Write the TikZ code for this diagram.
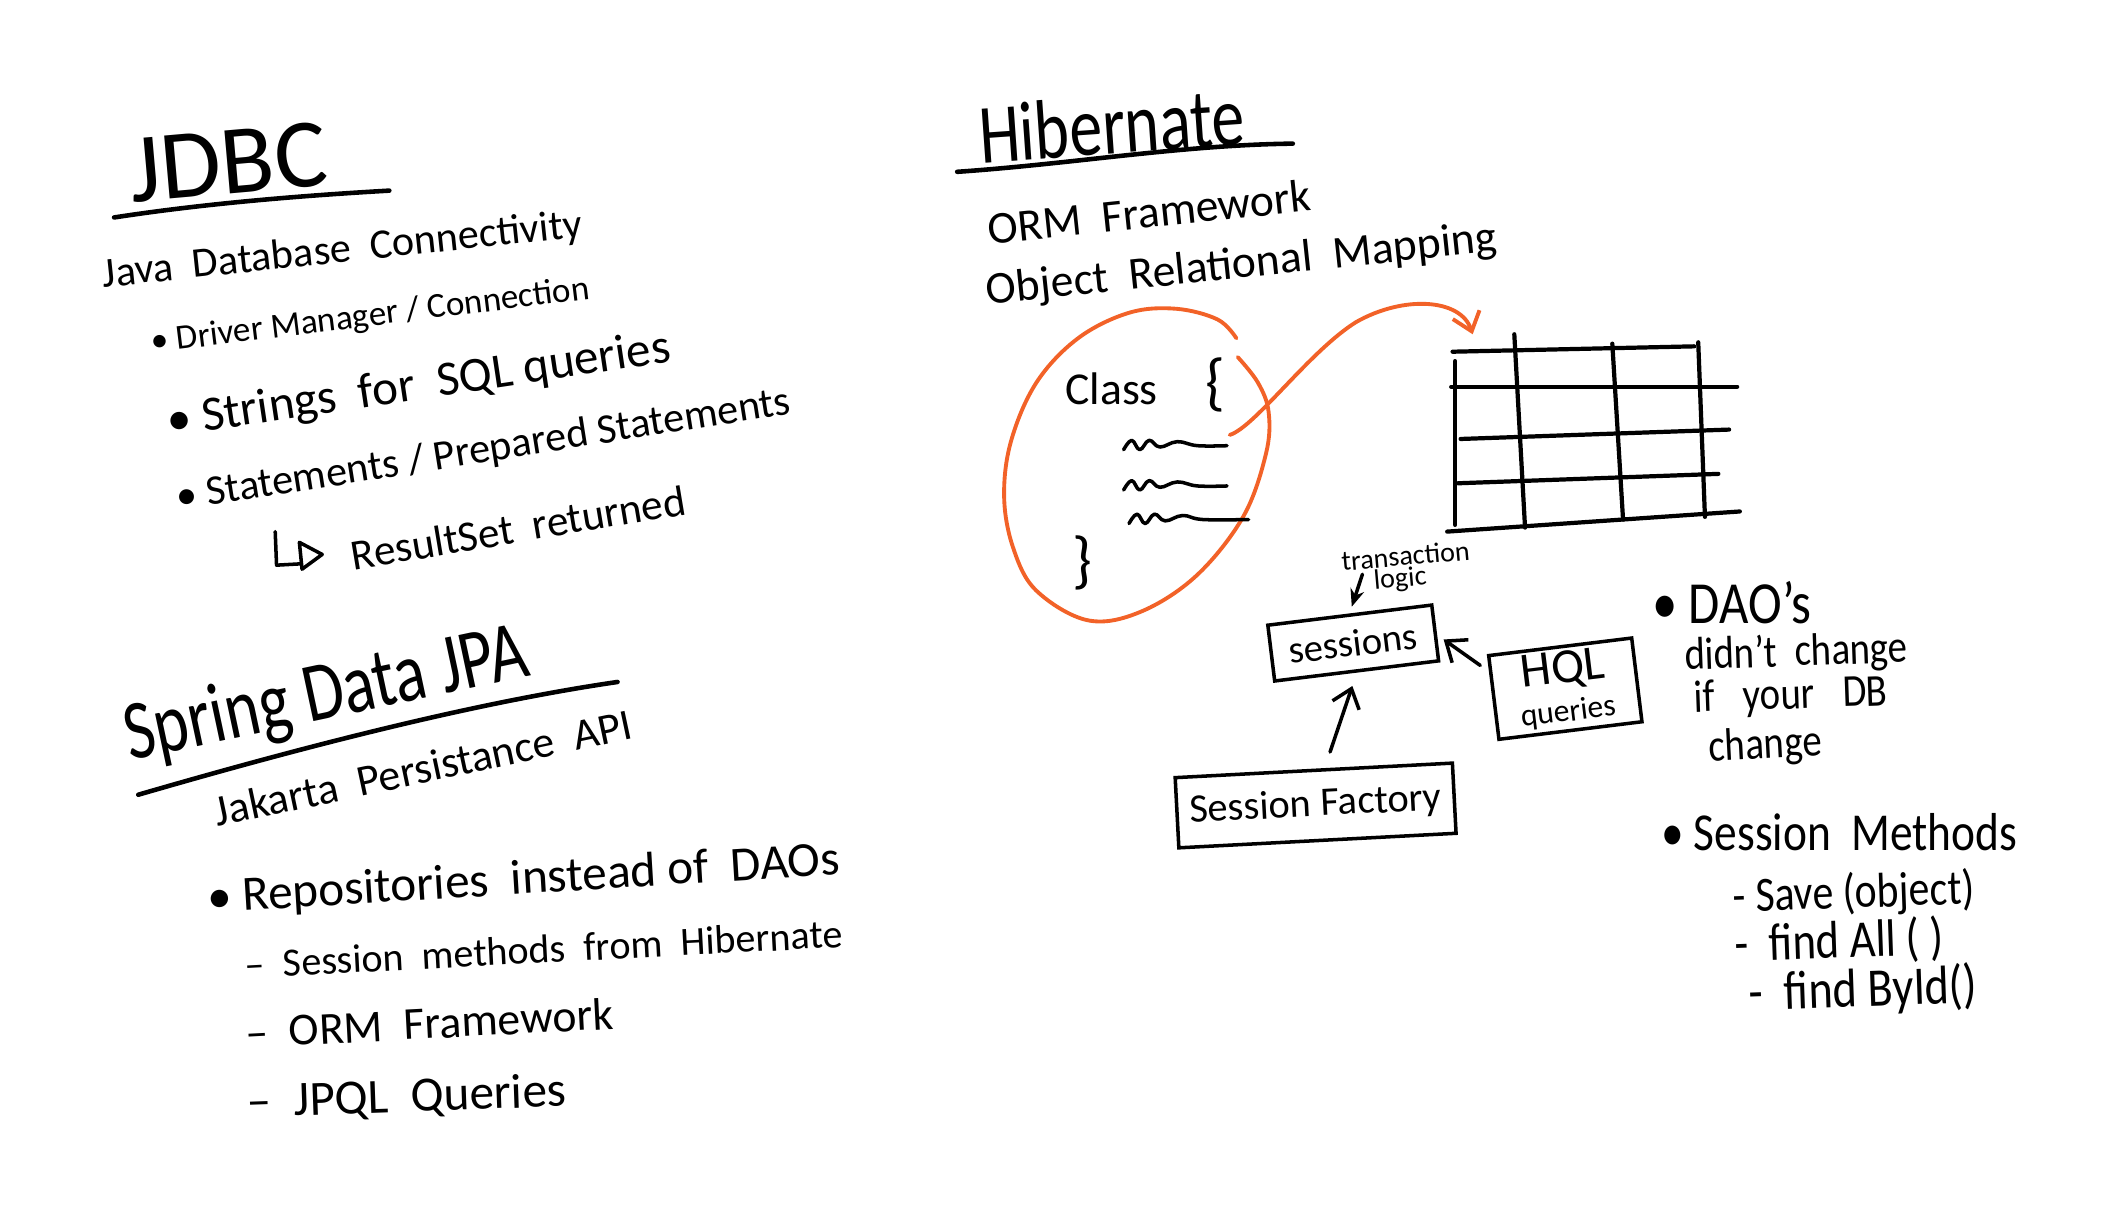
\documentclass[tikz,border=0pt]{standalone}
\usepackage{fontspec}
\setmainfont{Carlito}
\usepackage{xcolor}
\usetikzlibrary{arrows.meta,positioning,calc}
\definecolor{penorange}{RGB}{242,98,40}

\begin{document}
\begin{tikzpicture}[x=0.013425cm,y=-0.013425cm,
  >={Straight Barb[length=5pt,width=8pt]},
  ink/.style={line width=1pt,line cap=round,line join=round,black},
  hand/.style={font=\fontsize{#1}{#1}\selectfont,inner sep=0pt},
  hand/.default=13,
  note/.style={hand=#1,xscale=0.85},
  note/.default=13,
  title/.style={font=\fontsize{24}{28}\selectfont,inner sep=0pt,xscale=0.78},
  boxnode/.style={draw,line width=1pt,inner sep=2pt}]
  \useasboundingbox (0,0) rectangle (1568,906);

  % JDBC
  \node[rotate=5,hand=28] (jdbc) at (170,121) {JDBC};
  \draw[ink,line width=1.3pt] (85,162) .. controls (150,152) and (220,146) .. (290,142);
  \node[rotate=6,hand=12] (jdbcname) at (255,187) {Java \ Database \ Connectivity};
  \node[rotate=7,hand=10] (drv) at (276,236) {•\ Driver Manager / Connection};
  \node[rotate=8.5,hand=14] (strs) at (312,288) {•\ Strings \ for \ SQL queries};
  \node[rotate=9,hand=12] (stmts) at (360,336) {•\ Statements / Prepared Statements};
  \node[rotate=9.5,hand=12.3] (rset) at (386,393) {ResultSet \ returned};
  \draw[ink] (205,396) -- (206,421) -- (224,420);
  \draw[ink] (223,404) -- (240,413) -- (225,424) -- cycle;

  % Spring Data JPA
  \node[rotate=12,title] (spring) at (243,519) {Spring Data JPA};
  \draw[ink,line width=1.3pt] (103,592) .. controls (220,558) and (350,524) .. (460,508);
  \node[rotate=12,hand=12.5] (jakarta) at (315,572) {Jakarta \ Persistance \ API};
  \node[rotate=3.5,hand=14] (repo) at (390,656) {•\ Repositories \ instead of \ DAOs};
  \node[rotate=3,hand=11.4] (smeth) at (405,707) {– \ Session \ methods \ from \ Hibernate};
  \node[rotate=3,hand=13] (ormfw) at (320,762) {– \ ORM \ Framework};
  \node[rotate=2,hand=14] (jpql) at (303,818) {– \ JPQL \ Queries};

  % Hibernate
  \node[rotate=4,title] (hib) at (828,93) {Hibernate};
  \draw[ink,line width=1.3pt] (713,128) .. controls (800,122) and (880,108) .. (963,107);
  \node[rotate=6,hand] (orm) at (856,158) {ORM \ Framework};
  \node[rotate=6,hand] (ormlong) at (925,198) {Object \ Relational \ Mapping};

  % object -> table
  \draw[penorange,line width=1.1pt,line cap=round] plot[smooth,tension=0.6] coordinates
    {(921,252) (907,238) (876,230) (841,233) (803,252) (772,285) (753,329) (748,371)
     (755,409) (772,440) (810,462) (849,456) (891,429) (926,385) (943,338) (945,307)
     (937,285) (922,266)};
  \node[hand] (cls) at (828,290) {Class};
  \node[hand=18] (open) at (905,287) {\{};
  \node[hand=18] (close) at (806,419) {\}};
  \foreach \x/\y/\len in {837/332/77, 837/362/77, 841/387/89}
    \draw[ink,shift={(\x,\y)}] plot[smooth,tension=0.7] coordinates
      {(0,3) (6,-4) (12,3) (19,-4) (27,1) (40,-3) (55,0) (\len,0)};
  \coordinate (objend) at (916,324);
  \coordinate (tabletop) at (1097,249);
  \draw[penorange,line width=1.1pt,line cap=round,->] (objend)
    .. controls (935,318) and (975,262) .. (1010,240)
    .. controls (1045,220) and (1088,222) .. (tabletop);

  % table
  \foreach \xa/\ya/\xb/\yb in {1082/262/1262/258, 1081/288/1294/288, 1088/327/1288/320,
                               1086/360/1280/353, 1078/396/1296/381}
    \draw[ink,line width=1.2pt] (\xa,\ya) -- (\xb,\yb);
  \foreach \xa/\ya/\xb/\yb in {1084/269/1084/391, 1128/249/1136/393,
                               1201/256/1209/387, 1265/255/1270/385}
    \draw[ink,line width=1.2pt] (\xa,\ya) -- (\xb,\yb);

  % sessions
  \node[boxnode,rotate=7,minimum width=47pt,minimum height=16pt,hand=11] (sess) at (1008,479) {sessions};
  \node[boxnode,rotate=7,minimum width=41pt,minimum height=24pt,align=center,hand=14] (hql) at (1166,513)
    {HQL\\[-3pt]{\fontsize{9}{9}\selectfont queries}};
  \node[boxnode,rotate=3,minimum width=79pt,minimum height=20pt,hand=11.5] (fac) at (980,600) {Session Factory};
  \node[rotate=5,hand=8] (trans) at (1047,414) {transaction};
  \node[rotate=5,hand=8] (logic) at (1043,432) {logic};
  \draw[ink,-{Stealth[length=5pt,width=4pt]},shorten >=2pt] ($(logic.west)+(-8,-6)$) -- (sess.north);
  \draw[ink,->,shorten <=5pt,shorten >=4pt] ($(fac.north)+(8,0)$) -- (sess.south);
  \draw[ink,->,shorten <=3pt] ($(hql.north west)!0.4!(hql.west)$) -- ($(sess.east)+(5,5)$);

  % notes
  \node[note=17] (dao) at (1290,449) {•\ DAO's};
  \node[rotate=2,note] (didnt) at (1338,487) {didn't \ change};
  \node[rotate=2,note] (ifdb) at (1334,519) {if \enspace your \enspace DB};
  \node[rotate=3,note] (chg) at (1315,556) {change};
  \node[note=15.2] (smeths) at (1370,620) {•\ Session \ Methods};
  \node[rotate=2,note=14] (save) at (1381,666) {-\ Save (object)};
  \node[rotate=2,note=15] (fall) at (1370,702) {-\ \ find All ( )};
  \node[rotate=2,note=15.5] (fbid) at (1388,738) {-\ \ find ById()};
\end{tikzpicture}
\end{document}
